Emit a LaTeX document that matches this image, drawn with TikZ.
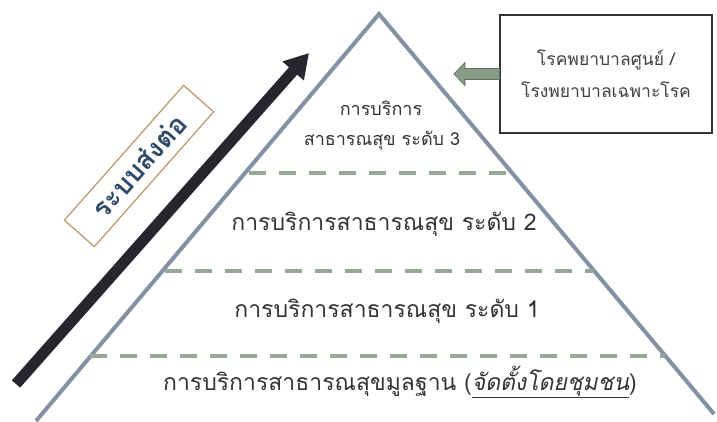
\documentclass[tikz,border=0pt]{standalone}
\usepackage{fontspec}
\setmainfont[Script=Thai]{Loma}
\newfontfamily\thaiit[Script=Thai,FakeSlant=0.2]{Loma}
\usetikzlibrary{arrows.meta}
\definecolor{pyr}{HTML}{8391A3}
\definecolor{dashc}{HTML}{97A797}
\definecolor{txt}{HTML}{333333}
\definecolor{darkarrow}{HTML}{26262E}
\definecolor{tanc}{HTML}{B8976A}
\definecolor{slate}{HTML}{2E4A66}
\definecolor{greenarr}{HTML}{889C88}
\definecolor{greenedge}{HTML}{5E725E}
\tikzset{
  pyrline/.style={draw=pyr, line width=4pt, line join=miter},
  levelline/.style={draw=dashc, line width=4pt, dash pattern=on 17pt off 13pt},
  lvltext/.style={text=txt, font=\fontsize{23}{27}\selectfont, inner sep=0pt},
  smalltext/.style={text=txt, font=\fontsize{18}{21}\selectfont, inner sep=0pt},
  boxtext/.style={text=black!75, font=\fontsize{17.5}{21}\selectfont, inner sep=0pt},
  infobox/.style={draw=black!80, line width=1.2pt, minimum width=212pt, minimum height=118pt, inner sep=0pt},
}
\begin{document}
\begin{tikzpicture}[x=1pt,y=-1pt]
\useasboundingbox (0,0) rectangle (717,421);
% pyramid
\coordinate (apex) at (379,14);
\coordinate (bl) at (36,421);
\coordinate (br) at (714,414);
\draw[pyrline] (bl) -- (apex) -- (br);
% level dashed lines
\coordinate (d1a) at (249,173); \coordinate (d1b) at (514,173);
\coordinate (d2a) at (165,271); \coordinate (d2b) at (594,271);
\coordinate (d3a) at (90,356); \coordinate (d3b) at (665,356);
\draw[levelline] (d1a) -- (d1b);
\draw[levelline] (d2a) -- (d2b);
\draw[levelline] (d3a) -- (d3b);
% level texts
\node[smalltext] (l3a) at (381,108) {การบริการ};
\node[smalltext] (l3b) at (382,141) {สาธารณสุข ระดับ 3};
\node[lvltext] (l2) at (384,224) {การบริการสาธารณสุข ระดับ 2};
\node[lvltext] (l1) at (387,311) {การบริการสาธารณสุข ระดับ 1};
\node[lvltext] (l0) at (400,382) {การบริการสาธารณสุขมูลฐาน (\underline{\thaiit จัดตั้งโดยชุมชน})};
% info box
\node[infobox] (box) at (606,74) {};
\node[boxtext] (bt1) at (606,60) {โรคพยาบาลศูนย์ /};
\node[boxtext] (bt2) at (606,90) {โรงพยาบาลเฉพาะโรค};
% green block arrow from box to pyramid
\coordinate (gtip) at (454,74);
\fill[greenarr, draw=greenedge, line width=0.8pt, line join=miter]
  (gtip) -- ++(11,-11.5) -- ++(0,6) -- (box.west |- 0,68.5) -- (box.west |- 0,79.5) -- (465,79.5) -- ++(0,6) -- cycle;
% referral arrow
\coordinate (rtail) at (16,384);
\coordinate (rtip) at (309,53);
\draw[darkarrow, line width=11pt, -{Triangle[length=24pt,width=27pt]}] (rtail) -- (rtip);
% referral label
\node[draw=tanc, line width=1.2pt, minimum width=180pt, minimum height=40pt, rotate=48.5, inner sep=0pt] (refbox) at (139,166) {};
\node[rotate=48.5, text=slate, font=\bfseries\fontsize{27}{30}\selectfont] (reftext) at (139,166) {ระบบส่งต่อ};
\end{tikzpicture}
\end{document}
